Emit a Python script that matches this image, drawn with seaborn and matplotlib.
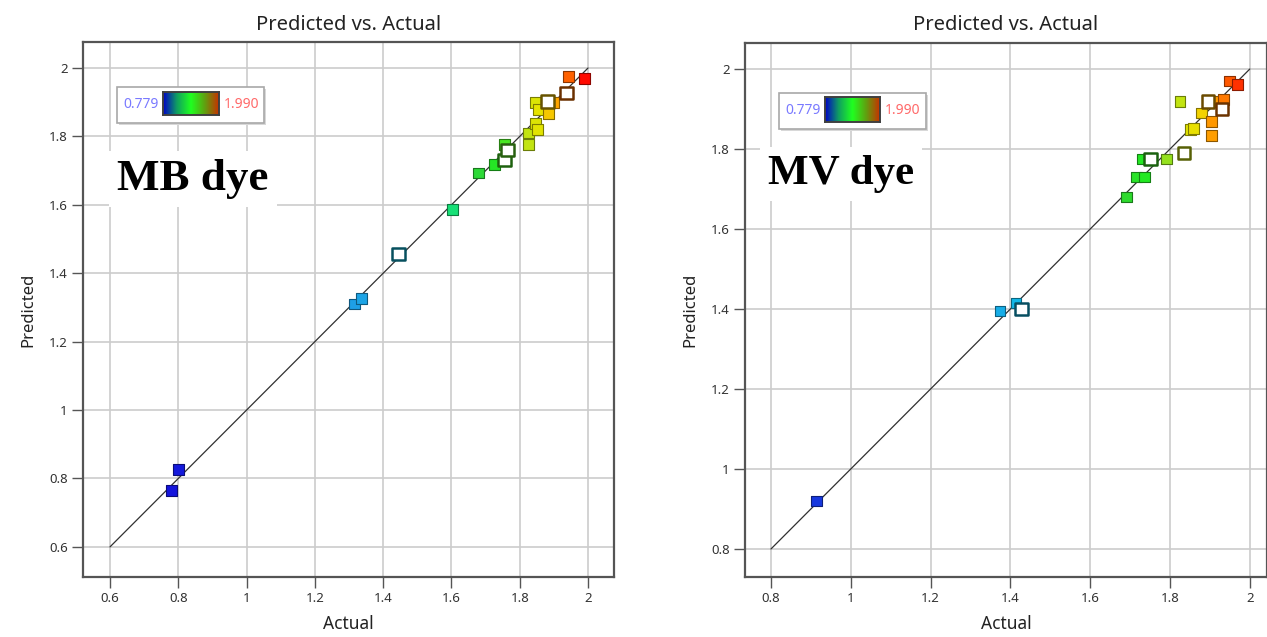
import numpy as np
import pandas as pd
import matplotlib
matplotlib.use("Agg")
import matplotlib.pyplot as plt
import seaborn as sns
from matplotlib.colors import LinearSegmentedColormap, Normalize, to_rgb
from matplotlib.patches import Rectangle

# ---------------- data ----------------
mb_actual = [0.779, 0.800, 1.316, 1.336, 1.603, 1.679, 1.726, 1.755, 1.826, 1.826,
             1.846, 1.852, 1.846, 1.855, 1.879, 1.899, 1.884, 1.943, 1.990]
mb_pred = [0.765, 0.827, 1.310, 1.327, 1.585, 1.693, 1.719, 1.775, 1.810, 1.775,
           1.839, 1.819, 1.898, 1.880, 1.901, 1.898, 1.866, 1.974, 1.968]
mb_rep_actual = [1.445, 1.755, 1.764, 1.882, 1.937]
mb_rep_pred = [1.456, 1.731, 1.760, 1.901, 1.927]

mv_actual = [0.913, 1.374, 1.414, 1.692, 1.717, 1.735, 1.730, 1.792, 1.825, 1.852,
             1.858, 1.880, 1.905, 1.903, 1.908, 1.933, 1.950, 1.970]
mv_pred = [0.920, 1.395, 1.415, 1.680, 1.730, 1.730, 1.775, 1.775, 1.918, 1.848,
           1.852, 1.890, 1.868, 1.833, 1.918, 1.923, 1.970, 1.962]
mv_rep_actual = [1.427, 1.752, 1.835, 1.895, 1.930]
mv_rep_pred = [1.400, 1.775, 1.790, 1.918, 1.900]

color_min, color_max = 0.779, 1.990
mb_xticks = [0.6, 0.8, 1.0, 1.2, 1.4, 1.6, 1.8, 2.0]
mv_xticks = [0.8, 1.0, 1.2, 1.4, 1.6, 1.8, 2.0]
tick_fmt = lambda v: ("%g" % v)

# ---------------- style ----------------
sns.set_theme(style="white")
plt.rcParams['font.family'] = ['Noto Sans', 'DejaVu Sans']

W, H = 1267, 637
fig = plt.figure(figsize=(W / 100, H / 100), dpi=100)

def fx(px):
    return px / W

def fy(py):
    return 1 - py / H

# point colormap (by actual value)
nodes = [(0.779, "#1414dc"), (1.05, "#1a5ee0"), (1.32, "#1ea0e6"), (1.43, "#10bce8"),
         (1.60, "#14e07a"), (1.69, "#30d830"), (1.74, "#22ea22"), (1.79, "#8ee020"),
         (1.83, "#c4e410"), (1.855, "#e6e400"), (1.88, "#f2d400"), (1.90, "#ffa400"),
         (1.94, "#ff7000"), (1.99, "#ff0a00")]
pt_cmap = LinearSegmentedColormap.from_list(
    "de", [((v - color_min) / (color_max - color_min), c) for v, c in nodes])
norm = Normalize(color_min, color_max)

def dark(c, f=0.45):
    r, g, b = to_rgb(c)
    return (r * f, g * f, b * f)

bar_cmap = LinearSegmentedColormap.from_list("bar", ["#0000c8", "#10a060", "#20ff20", "#60a010", "#c83000"])


def panel(rect, actual, pred, rep_a, rep_p, xlim, ylim, ticks, diag_start,
          legend_box, bar_box, txt_pos, dye_label, dye_size, hide_right=False):
    ax = fig.add_axes(rect)
    # diagonal reference
    ax.plot([diag_start, 2.0], [diag_start, 2.0], color="#303030", lw=0.9, zorder=2)

    df = pd.DataFrame({"Actual": actual, "Predicted": pred})
    ecs = [dark(pt_cmap(norm(v)), 0.55) for v in actual]
    sns.scatterplot(data=df, x="Actual", y="Predicted", hue="Actual", palette=pt_cmap,
                    hue_norm=norm, marker="s", s=62, edgecolor=ecs, linewidth=0.8,
                    legend=False, ax=ax, zorder=3)

    dr = pd.DataFrame({"Actual": rep_a, "Predicted": rep_p})
    sns.scatterplot(data=dr, x="Actual", y="Predicted", hue="Actual", palette=pt_cmap,
                    hue_norm=norm, marker="s", s=85, linewidth=1.8,
                    legend=False, ax=ax, zorder=4)
    coll = ax.collections[-1]
    coll.set_edgecolors([dark(pt_cmap(norm(v)), 0.42) for v in rep_a])
    coll.set_facecolors("white")

    ax.set_xlim(*xlim)
    ax.set_ylim(*ylim)
    ax.set_xticks(ticks)
    ax.set_yticks(ticks)
    ax.set_xticklabels([tick_fmt(t) for t in ticks])
    ax.set_yticklabels([tick_fmt(t) for t in ticks])
    ax.grid(True, color="#cccccc", lw=1.2, zorder=0)
    ax.set_axisbelow(True)
    ax.tick_params(axis="both", which="major", direction="out", length=8, width=1.0,
                   color="#555555", labelsize=9.5, labelcolor="#333333", pad=3,
                   bottom=True, left=True)
    for name, sp in ax.spines.items():
        sp.set_color("#555555")
        sp.set_linewidth(1.6)
    if hide_right:
        ax.spines["right"].set_visible(False)
    ax.set_title("Predicted vs. Actual", fontsize=14.5, color="#222222", pad=9)
    ax.set_xlabel("Actual", fontsize=12.5, color="#222222", labelpad=7)
    ax.set_ylabel("Predicted", fontsize=12, color="#222222", labelpad=9)

    # colour legend box
    x0, y0, x1, y1 = legend_box
    ax.add_patch(Rectangle((fx(x0 + 2), fy(y1 + 2)), fx(x1 - x0), fy(y0) - fy(y1),
                           transform=fig.transFigure, facecolor="#d8d8d8", edgecolor="none",
                           zorder=5))
    ax.add_patch(Rectangle((fx(x0), fy(y1)), fx(x1 - x0), fy(y0) - fy(y1),
                           transform=fig.transFigure, facecolor="white", edgecolor="#a8a8a8",
                           lw=1.2, zorder=6))
    bx0, by0, bx1, by1 = bar_box
    bax = fig.add_axes([fx(bx0), fy(by1), fx(bx1 - bx0), fy(by0) - fy(by1)])
    bax.imshow(np.linspace(0, 1, 256)[None, :], aspect="auto", cmap=bar_cmap)
    bax.set_xticks([]); bax.set_yticks([])
    for sp in bax.spines.values():
        sp.set_color("#404040"); sp.set_linewidth(1.4)
    cy = fy((y0 + y1) / 2)
    fig.text(fx((x0 + bx0) / 2 + 1), cy, "0.779", color="#7a7aff", fontsize=10,
             ha="center", va="center", zorder=7)
    fig.text(fx((bx1 + x1) / 2), cy, "1.990", color="#ff6a6a", fontsize=10,
             ha="center", va="center", zorder=7)

    # dye label
    tx, ty = txt_pos
    fig.text(fx(tx), fy(ty), dye_label, fontsize=dye_size, fontweight="bold",
             family=["Liberation Serif", "DejaVu Serif"], color="black",
             ha="left", va="baseline",
             bbox=dict(facecolor="white", edgecolor="none", pad=6))
    return ax


panel([fx(83), fy(577), fx(614 - 83), fy(42) - fy(577)],
      mb_actual, mb_pred, mb_rep_actual, mb_rep_pred,
      xlim=(0.521, 2.076), ylim=(0.512, 2.076), ticks=mb_xticks, diag_start=0.6,
      legend_box=(117, 87, 264, 123), bar_box=(163, 92, 219, 115),
      txt_pos=(117, 190), dye_label="MB dye", dye_size=32.5)

panel([fx(745), fy(577), fx(1267 - 745), fy(43) - fy(577)],
      mv_actual, mv_pred, mv_rep_actual, mv_rep_pred,
      xlim=(0.735, 2.043), ylim=(0.730, 2.065), ticks=mv_xticks, diag_start=0.8,
      legend_box=(779, 93, 926, 129), bar_box=(825, 97, 880, 122),
      txt_pos=(768, 184), dye_label="MV dye", dye_size=31)

fig.savefig("out.png", dpi=100)
